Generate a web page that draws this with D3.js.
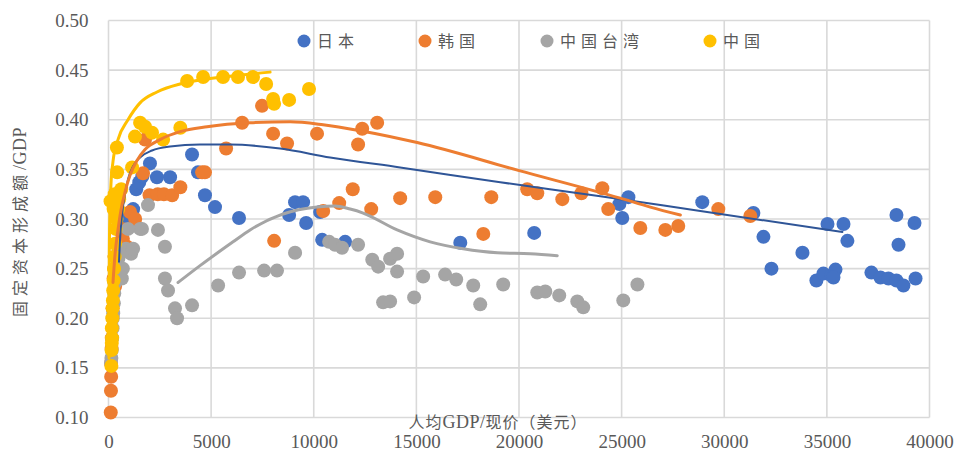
<!DOCTYPE html>
<html>
<head>
<meta charset="utf-8">
<script src="https://cdn.jsdelivr.net/npm/d3@7"></script>
<style>
  html, body { margin: 0; padding: 0; background: #fff; }
  svg { display: block; }
  .tick text { fill: #595959; font-family: "Liberation Serif", "DejaVu Serif", serif; font-size: 19px; }
  .cjk { font-family: "Noto Sans CJK SC", "Noto Sans", sans-serif; fill: #595959; }
  .latin { font-family: "Liberation Serif", "DejaVu Serif", serif; }
</style>
</head>
<body>
<svg id="chart" width="958" height="454"></svg>
<script>
// Fixed capital formation / GDP against GDP per capita (current USD)
const seriesNames = ["日本", "韩国", "中国台湾", "中国"];
const seriesColors = ["#4472C4", "#ED7D31", "#A5A5A5", "#FFC000"];
const trendColors = ["#2F5597", "#ED7D31", "#A5A5A5", "#FFC000"];

const xTicks = [0, 5000, 10000, 15000, 20000, 25000, 30000, 35000, 40000];
const yTicks = [0.10, 0.15, 0.20, 0.25, 0.30, 0.35, 0.40, 0.45, 0.50];

// [GDP per capita, fixed capital formation / GDP]
const japan = [
  [480,0.262],[560,0.275],[650,0.287],[720,0.300],[850,0.295],[950,0.305],[1050,0.297],
  [1200,0.310],[1350,0.330],[1500,0.337],[1650,0.343],[2020,0.356],[2360,0.342],[3000,0.342],
  [4070,0.365],[4360,0.347],[4700,0.324],[5190,0.312],[6360,0.301],[8800,0.304],[9090,0.317],
  [9480,0.317],[9630,0.296],[10310,0.307],[10410,0.279],[11530,0.277],[17140,0.276],
  [20740,0.286],[24890,0.315],[25030,0.301],[25330,0.322],[28930,0.317],[31420,0.306],
  [31910,0.282],[32300,0.250],[33810,0.266],[34490,0.238],[34830,0.245],[35030,0.295],
  [35220,0.243],[35420,0.249],[35320,0.241],[35810,0.295],[36000,0.278],[37170,0.246],
  [37610,0.241],[38000,0.240],[38390,0.238],[38730,0.233],[39320,0.240],[38390,0.304],
  [38490,0.274],[39270,0.296]
];
const korea = [
  [110,0.105],[120,0.127],[130,0.141],[125,0.155],[150,0.170],[160,0.180],[200,0.210],
  [250,0.240],[280,0.250],[300,0.262],[320,0.232],[400,0.252],[550,0.270],[650,0.290],
  [700,0.280],[900,0.272],[1050,0.307],[1300,0.300],[1680,0.346],[1780,0.380],[2000,0.324],
  [2400,0.325],[2700,0.325],[3100,0.324],[3500,0.332],[4560,0.347],[4700,0.347],[5730,0.371],
  [6510,0.397],[7480,0.414],[8020,0.386],[8070,0.278],[8700,0.376],[10160,0.386],[10460,0.308],
  [11240,0.316],[11900,0.330],[12160,0.375],[12360,0.391],[12800,0.310],[13090,0.397],
  [14210,0.321],[15920,0.322],[18260,0.285],[18650,0.322],[20400,0.330],[20890,0.326],
  [22110,0.320],[23040,0.326],[24060,0.331],[24350,0.310],[25910,0.291],[27130,0.289],
  [27760,0.293],[29710,0.310],[31270,0.303]
];
const taiwan = [
  [120,0.155],[140,0.160],[160,0.168],[180,0.180],[200,0.190],[210,0.200],[230,0.205],
  [260,0.215],[280,0.225],[300,0.235],[350,0.245],[400,0.250],[480,0.260],[560,0.265],
  [650,0.240],[700,0.250],[850,0.270],[950,0.290],[1100,0.265],[1200,0.270],[1540,0.290],
  [1630,0.290],[1925,0.314],[2410,0.289],[2750,0.272],[2750,0.240],[2900,0.228],[3240,0.210],
  [3340,0.200],[4070,0.213],[5340,0.233],[6360,0.246],[7580,0.248],[8210,0.248],[9090,0.266],
  [10750,0.277],[11040,0.274],[11380,0.271],[12160,0.274],[12850,0.259],[13140,0.252],
  [13720,0.260],[14060,0.265],[14060,0.247],[13380,0.216],[13720,0.217],[14890,0.221],
  [15330,0.242],[16400,0.244],[16940,0.239],[17770,0.233],[18110,0.214],[19230,0.234],
  [20890,0.226],[21280,0.227],[21960,0.223],[22840,0.217],[23130,0.211],[25080,0.218],
  [25770,0.234]
];
const china = [
  [140,0.152],[150,0.168],[160,0.175],[175,0.180],[165,0.190],[185,0.200],[200,0.210],
  [215,0.218],[230,0.228],[250,0.238],[270,0.250],[300,0.262],[320,0.275],[350,0.290],
  [390,0.300],[100,0.318],[470,0.310],[520,0.320],[620,0.330],[250,0.310],[300,0.325],
  [420,0.347],[1150,0.352],[410,0.372],[1290,0.383],[1540,0.397],[1780,0.393],[2120,0.387],
  [2660,0.380],[3500,0.392],[3830,0.439],[4610,0.443],[5580,0.443],[6310,0.443],[7040,0.443],
  [7680,0.436],[8020,0.421],[8070,0.416],[8800,0.420],[9770,0.431]
];

// Trendline paths per economy
const japanTrend = [
  [512,0.257],[561,0.279],[658,0.304],[804,0.325],[951,0.340],[1194,0.353],[1536,0.362],
  [2121,0.369],[2998,0.373],[4461,0.375],[5923,0.375],[8361,0.371],[10798,0.362],
  [14211,0.352],[19086,0.337],[23961,0.323],[28836,0.308],[35758,0.287]
];
const koreaTrend = [
  [219,0.236],[317,0.264],[463,0.289],[609,0.309],[804,0.327],[1048,0.344],[1389,0.359],
  [1779,0.370],[2511,0.380],[3486,0.388],[4802,0.393],[6898,0.397],[8848,0.398],
  [10457,0.395],[12261,0.389],[15039,0.377],[19963,0.349],[24936,0.321],[26398,0.312],
  [27861,0.304]
];
const taiwanTrend = [
  [3388,0.236],[4461,0.253],[6069,0.277],[6898,0.289],[8507,0.305],[10164,0.312],
  [11041,0.313],[11773,0.310],[12407,0.306],[14064,0.289],[15673,0.277],[17282,0.270],
  [18940,0.266],[20548,0.265],[21865,0.263]
];
const chinaTrend = [
  [25,0.160],[30,0.210],[40,0.260],[60,0.300],[120,0.335],[220,0.358],[463,0.380],
  [951,0.400],[1536,0.417],[2364,0.428],[3486,0.436],[4802,0.441],[6411,0.445],[7873,0.448]
];

const seriesData = [japan, korea, taiwan, china];
const trendData = [japanTrend, koreaTrend, taiwanTrend, chinaTrend];
const trendWidths = [2, 3, 3, 3];

const svg = d3.select("#chart");
const x = d3.scaleLinear().domain([0, 40000]).range([108.5, 929.5]);
const y = d3.scaleLinear().domain([0.10, 0.50]).range([417.5, 20.5]);

// gridlines
const grid = svg.append("g");
grid.selectAll("line.v").data(xTicks).join("line")
  .attr("x1", d => x(d)).attr("x2", d => x(d))
  .attr("y1", y(0.50)).attr("y2", y(0.10))
  .attr("stroke", "#d9d9d9").attr("stroke-width", 1.6);
grid.selectAll("line.h").data(yTicks).join("line")
  .attr("x1", x(0)).attr("x2", x(40000))
  .attr("y1", d => y(d)).attr("y2", d => y(d))
  .attr("stroke", "#d9d9d9").attr("stroke-width", 1.6);

// axes (labels only)
const xAxis = svg.append("g").attr("transform", `translate(0,${y(0.10)})`)
  .call(d3.axisBottom(x).tickValues(xTicks).tickSize(0).tickPadding(17).tickFormat(d3.format("d")));
const yAxis = svg.append("g").attr("transform", `translate(${x(0)},0)`)
  .call(d3.axisLeft(y).tickValues(yTicks).tickSize(0).tickPadding(20).tickFormat(d3.format(".2f")));
[xAxis, yAxis].forEach(a => a.select(".domain").remove());

// markers
seriesData.forEach((data, i) => {
  svg.append("g").selectAll("circle").data(data).join("circle")
    .attr("cx", d => x(d[0])).attr("cy", d => y(d[1]))
    .attr("r", 7).attr("fill", seriesColors[i]);
});

// trendlines
const line = d3.line().x(d => x(d[0])).y(d => y(d[1])).curve(d3.curveMonotoneX);
trendData.forEach((data, i) => {
  svg.append("path").datum(data)
    .attr("d", line).attr("fill", "none")
    .attr("stroke", trendColors[i]).attr("stroke-width", trendWidths[i])
    .attr("stroke-linecap", "round");
});

// legend
const legendX = [304, 425, 547, 710];
const legend = svg.append("g");
seriesNames.forEach((name, i) => {
  legend.append("circle").attr("cx", legendX[i]).attr("cy", 41).attr("r", 6.5).attr("fill", seriesColors[i]);
  legend.append("text").attr("class", "cjk")
    .attr("x", legendX[i] + 13).attr("y", 47)
    .attr("font-size", 16).attr("letter-spacing", 5)
    .text(name);
});

// axis titles: CJK parts in sans, Latin parts in serif
function titleParts(sel, parts, spacing) {
  parts.forEach(p => {
    sel.append("tspan").attr("class", p.latin ? "latin" : null)
      .attr("font-size", p.latin ? 18 : 16)
      .attr("letter-spacing", p.latin ? 0.5 : spacing)
      .text(p.t);
  });
}
const xTitle = svg.append("text").attr("class", "cjk")
  .attr("x", 498).attr("y", 428).attr("text-anchor", "middle");
titleParts(xTitle, [{t: "人均"}, {t: "GDP/", latin: true}, {t: "现价（美元）"}], 1);

const yTitle = svg.append("text").attr("class", "cjk")
  .attr("transform", "translate(26,222) rotate(-90)")
  .attr("text-anchor", "middle");
titleParts(yTitle, [{t: "固定资本形成额"}, {t: "/GDP", latin: true}], 5);
</script>
</body>
</html>
